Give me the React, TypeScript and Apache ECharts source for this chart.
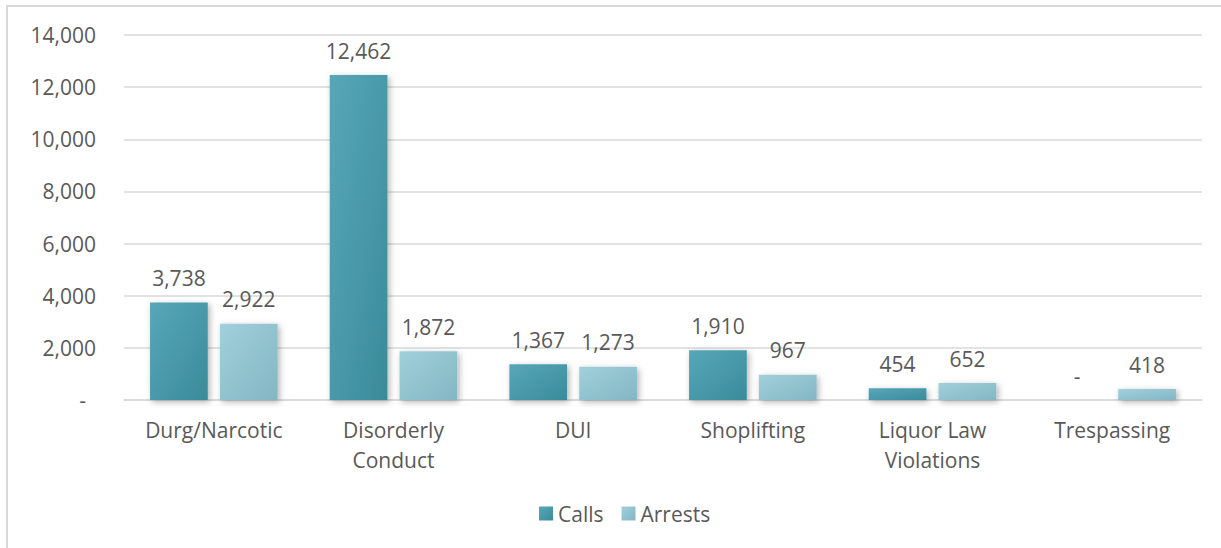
import React, { useEffect, useRef } from "react";
import * as echarts from "echarts";

const categories = [
  "Durg/Narcotic",
  "Disorderly\nConduct",
  "DUI",
  "Shoplifting",
  "Liquor Law\nViolations",
  "Trespassing",
];
const callsValues = [3738, 12462, 1367, 1910, 454, 0];
const arrestsValues = [2922, 1872, 1273, 967, 652, 418];
const seriesNames = ["Calls", "Arrests"];

const FONT = "'Open Sans', 'Liberation Sans', sans-serif";
const TEXT = "#595959";
const FS = 21;

const fmt = (v: number) => (v === 0 ? "-" : v.toLocaleString("en-US"));

export default function App() {
  const ref = useRef<HTMLDivElement>(null);
  useEffect(() => {
    if (!ref.current) return;
    const chart = echarts.init(ref.current, undefined, { renderer: "svg" });
    const grad = (a: string, b: string) =>
      new echarts.graphic.LinearGradient(0, 0, 1, 1, [
        { offset: 0, color: a },
        { offset: 1, color: b },
      ]);
    const labelCfg = {
      show: true,
      position: "top" as const,
      distance: 14,
      color: TEXT,
      fontSize: FS,
      fontFamily: FONT,
      formatter: (p: any) => fmt(p.value),
    };
    const shadow = {
      shadowBlur: 6,
      shadowColor: "rgba(0,0,0,0.3)",
      shadowOffsetX: 2,
      shadowOffsetY: 2,
    };
    chart.setOption({
      animation: false,
      textStyle: { fontFamily: FONT },
      graphic: [
        {
          type: "rect",
          shape: { x: 7, y: 6, width: 1400, height: 700 },
          style: { fill: "none", stroke: "#d9d9d9", lineWidth: 2 },
          silent: true,
        },
      ],
      grid: { left: 124, right: 19, top: 35, bottom: 148, containLabel: false },
      legend: {
        bottom: 19,
        left: 534,
        itemWidth: 14,
        itemHeight: 14,
        itemGap: 18,
        icon: "rect",
        textStyle: { color: TEXT, fontSize: FS, fontFamily: FONT },
        data: seriesNames,
      },
      xAxis: {
        type: "category",
        data: categories,
        axisTick: { show: false },
        axisLine: { lineStyle: { color: "#d9d9d9", width: 1.5 } },
        axisLabel: {
          color: TEXT,
          fontSize: FS,
          fontFamily: FONT,
          lineHeight: 30,
          margin: 15,
          interval: 0,
        },
      },
      yAxis: {
        type: "value",
        min: 0,
        max: 14000,
        interval: 2000,
        axisLine: { show: false },
        axisTick: { show: false },
        splitLine: { lineStyle: { color: "#d9d9d9", width: 1.5 } },
        axisLabel: {
          color: TEXT,
          fontSize: FS,
          fontFamily: FONT,
          margin: 28,
          formatter: (v: number) => (v === 0 ? "{d|-}" : fmt(v)),
          rich: {
            d: { color: TEXT, fontSize: FS, fontFamily: FONT, padding: [0, 10, 0, 0] },
          },
        },
      },
      series: [
        {
          name: seriesNames[0],
          type: "bar",
          data: callsValues,
          barGap: "21%",
          barCategoryGap: "29%",
          itemStyle: { color: grad("#57a7b9", "#3a8b9a"), ...shadow },
          label: labelCfg,
        },
        {
          name: seriesNames[1],
          type: "bar",
          data: arrestsValues,
          itemStyle: { color: grad("#a0d0dc", "#83b6c3"), ...shadow },
          label: labelCfg,
        },
      ],
    });
    return () => chart.dispose();
  }, []);
  return (
    <div
      ref={ref}
      style={{ position: "fixed", left: 0, top: 0, width: 1221, height: 548, background: "#fff" }}
    />
  );
}
